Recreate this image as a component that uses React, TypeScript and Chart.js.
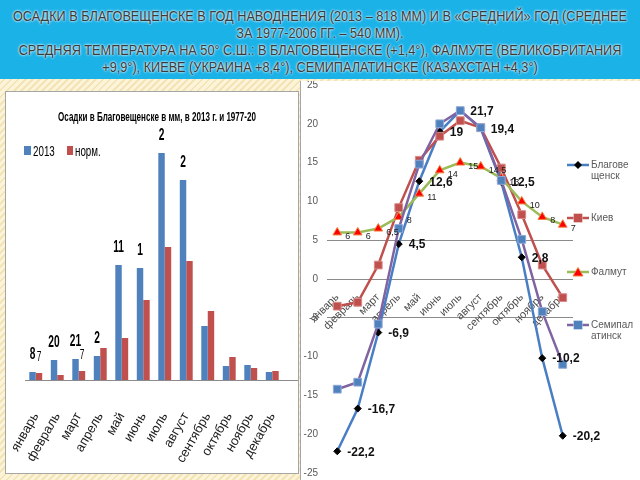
import React, { useEffect, useRef } from "react";
import { Chart, registerables } from "chart.js";

Chart.register(...registerables);
Chart.defaults.font.family = "'Liberation Sans', Arial, sans-serif";

// ---------- DATA ----------
const titleLines = [
  "ОСАДКИ В БЛАГОВЕЩЕНСКЕ В ГОД НАВОДНЕНИЯ (2013 – 818 ММ) И В «СРЕДНИЙ» ГОД (СРЕДНЕЕ",
  "ЗА 1977-2006 ГГ. – 540 ММ).",
  "СРЕДНЯЯ ТЕМПЕРАТУРА НА 50° С.Ш.: В БЛАГОВЕЩЕНСКЕ (+1,4°), ФАЛМУТЕ (ВЕЛИКОБРИТАНИЯ",
  "+9,9°), КИЕВЕ (УКРАИНА +8,4°), СЕМИПАЛАТИНСКЕ (КАЗАХСТАН +4,3°)",
];

const months = [
  "январь", "февраль", "март", "апрель", "май", "июнь",
  "июль", "август", "сентябрь", "октябрь", "ноябрь", "декабрь",
];

const precipTitle = "Осадки в Благовещенске в мм, в 2013 г. и 1977-20";
const precipSeriesNames = ["2013", "норм."];
const precip2013 = [8, 20, 21, 24, 115, 112, 227, 200, 54, 14, 15, 8];
const precipNorm = [7, 5, 9, 32, 42, 80, 133, 119, 69, 23, 12, 9];
const precipLabels2013 = ["8", "20", "21", "2", "11", "1", "2", "2", "", "", "", ""];
const precipLabelsNorm = ["7", "", "7", "", "", "", "", "", "", "", "", ""];

const tempSeriesNames = ["Благовещенск", "Киев", "Фалмут", "Семипалатинск"];
const tempBlag = [-22.2, -16.7, -6.9, 4.5, 12.6, 19, 21.7, 19.4, 12.5, 2.8, -10.2, -20.2];
const tempKiev = [-3.5, -3.0, 1.8, 9.2, 15.3, 18.4, 20.4, 19.5, 14.3, 8.3, 1.8, -2.4];
const tempFalmouth = [6, 6, 6.5, 8, 11, 14, 15, 14.5, 13, 10, 8, 7];
const tempSemip = [-14.2, -13.3, -5.8, 6.5, 14.8, 20, 21.7, 19.5, 12.7, 5.1, -4.2, -11.0];
const tempMin = -25;
const tempMax = 25;
const tempStep = 5;
const tempGridValues = [5, 0, -5];

// ---------- STYLE ----------
const BLUE = "#4F81BD";
const RED = "#C0504D";
const BLAG_LINE = "#4A7EC4";
const FAL_LINE = "#9BBB59";
const SEM_LINE = "#8064A2";

const fmt = (v: number) => String(v).replace(".", ",");

const barLabelPlugin = {
  id: "barLabels",
  afterDatasetsDraw(chart: any) {
    const ctx = chart.ctx;
    const a = chart.chartArea;
    ctx.save();
    ctx.strokeStyle = "#8c8c8c";
    ctx.lineWidth = 1;
    ctx.beginPath();
    const yb = Math.round(a.bottom) + 0.5;
    ctx.moveTo(a.left, yb);
    ctx.lineTo(chart.width, yb);
    ctx.stroke();
    const sets = [
      { labels: precipLabels2013, font: "bold 17px 'Liberation Sans', Arial", sx: 0.6, dy: 18 },
      { labels: precipLabelsNorm, font: "14px 'Liberation Sans', Arial", sx: 0.6, dy: 16 },
    ];
    sets.forEach((s, di) => {
      const meta = chart.getDatasetMeta(di);
      meta.data.forEach((bar: any, i: number) => {
        const t = s.labels[i];
        if (!t) return;
        ctx.save();
        ctx.translate(bar.x, bar.y - s.dy);
        ctx.scale(s.sx, 1);
        ctx.font = s.font;
        ctx.textAlign = "center";
        ctx.textBaseline = "middle";
        ctx.fillStyle = "#000";
        ctx.fillText(t, 0, 0);
        ctx.restore();
      });
    });
    ctx.restore();
  },
};

const lineLabelPlugin = {
  id: "lineLabels",
  afterDatasetsDraw(chart: any) {
    const ctx = chart.ctx;
    ctx.save();
    ctx.textAlign = "left";
    ctx.textBaseline = "middle";
    ctx.fillStyle = "#111";
    ctx.font = "bold 12px 'Liberation Sans', Arial";
    chart.getDatasetMeta(0).data.forEach((p: any, i: number) => {
      ctx.fillText(fmt(tempBlag[i]), p.x + 10, p.y + 1);
    });
    ctx.font = "9px 'Liberation Sans', Arial";
    ctx.fillStyle = "#222";
    chart.getDatasetMeta(2).data.forEach((p: any, i: number) => {
      ctx.fillText(fmt(tempFalmouth[i]), p.x + 8, p.y + 4);
    });
    ctx.restore();
  },
};

function PrecipChart() {
  const ref = useRef<HTMLCanvasElement>(null);
  useEffect(() => {
    const chart = new Chart(ref.current as HTMLCanvasElement, {
      type: "bar",
      data: {
        labels: months,
        datasets: [
          { label: precipSeriesNames[0], data: precip2013, backgroundColor: BLUE, categoryPercentage: 0.6, barPercentage: 1 },
          { label: precipSeriesNames[1], data: precipNorm, backgroundColor: RED, categoryPercentage: 0.6, barPercentage: 1 },
        ],
      },
      options: {
        animation: false,
        responsive: false,
        layout: { padding: { left: 19, right: 15, top: 38, bottom: 0 } },
        plugins: { legend: { display: false }, tooltip: { enabled: false }, title: { display: false } },
        scales: {
          x: {
            grid: { display: false },
            border: { display: false },
            ticks: {
              color: "#1a1a1a",
              font: { size: 13 },
              minRotation: 60,
              maxRotation: 60,
              autoSkip: false,
              padding: 22,
            },
            afterFit: (s: any) => { s.height = 93; s.paddingLeft = 0; s.paddingRight = 0; },
          },
          y: { display: false, min: 0, max: 250 },
        },
      },
      plugins: [barLabelPlugin],
    } as any);
    return () => chart.destroy();
  }, []);
  return <canvas ref={ref} width={292} height={381} style={{ display: "block", position: "absolute", left: 0, top: 0 }} />;
}

function TempChart() {
  const ref = useRef<HTMLCanvasElement>(null);
  useEffect(() => {
    const chart = new Chart(ref.current as HTMLCanvasElement, {
      type: "line",
      data: {
        labels: months,
        datasets: [
          {
            label: tempSeriesNames[0], data: tempBlag, borderColor: BLAG_LINE, borderWidth: 2.5,
            pointStyle: "rectRot", pointRadius: 3.5, pointBackgroundColor: "#000", pointBorderColor: "#000",
            pointBorderWidth: 1, order: 4, tension: 0,
          },
          {
            label: tempSeriesNames[1], data: tempKiev, borderColor: RED, borderWidth: 2.5,
            pointStyle: "rect", pointRadius: 5.5, pointBackgroundColor: RED, pointBorderColor: "#D98A88",
            pointBorderWidth: 1, order: 3, tension: 0,
          },
          {
            label: tempSeriesNames[2], data: tempFalmouth, borderColor: FAL_LINE, borderWidth: 2.5,
            pointStyle: "triangle", pointRadius: 5, pointBackgroundColor: "#FF0000", pointBorderColor: "#F08040",
            pointBorderWidth: 1, order: 2, tension: 0,
          },
          {
            label: tempSeriesNames[3], data: tempSemip, borderColor: SEM_LINE, borderWidth: 2.5,
            pointStyle: "rect", pointRadius: 5.5, pointBackgroundColor: BLUE, pointBorderColor: "#8FA8D8",
            pointBorderWidth: 1, order: 1, tension: 0,
          },
        ],
      },
      options: {
        animation: false,
        responsive: false,
        layout: { padding: { left: 0, right: 67, top: 9, bottom: 7 } },
        plugins: { legend: { display: false }, tooltip: { enabled: false } },
        scales: {
          x: {
            position: { y: 0 },
            offset: true,
            grid: { display: false },
            border: { display: false },
            ticks: { color: "#4a4a4a", font: { size: 11 }, minRotation: 45, maxRotation: 45, autoSkip: false, padding: 4 },
            afterFit: (s: any) => { s.paddingLeft = 0; s.paddingRight = 0; },
          },
          y: {
            min: tempMin,
            max: tempMax,
            border: { display: false },
            grid: {
              drawTicks: false,
              color: (c: any) => (c.tick && tempGridValues.includes(c.tick.value) ? "#8a8a8a" : "rgba(0,0,0,0)"),
            },
            ticks: { stepSize: tempStep, color: "#595959", font: { size: 10 }, padding: 9 },
            afterFit: (s: any) => { s.width = 26; s.paddingTop = 0; s.paddingBottom = 0; },
          },
        },
      },
      plugins: [lineLabelPlugin],
    } as any);
    return () => chart.destroy();
  }, []);
  return <canvas ref={ref} width={339} height={404} style={{ display: "block", position: "absolute", left: 0, top: -5 }} />;
}

function Marker({ kind, color }: { kind: string; color: string }) {
  if (kind === "diamond") return <polygon points="11,2 15,6 11,10 7,6" fill="#000" />;
  if (kind === "triangle") return <polygon points="11,1.5 16,10 6,10" fill="#FF0000" stroke="#F08040" strokeWidth={1} />;
  return <rect x={6.5} y={1.5} width={9} height={9} fill={color} stroke="#ffffff" strokeOpacity={0.35} strokeWidth={1} />;
}

const legendDefs = [
  { line: BLAG_LINE, kind: "diamond", mcolor: "#000" },
  { line: RED, kind: "square", mcolor: RED },
  { line: FAL_LINE, kind: "triangle", mcolor: "#FF0000" },
  { line: SEM_LINE, kind: "square", mcolor: BLUE },
];

export default function App() {
  return (
    <div
      style={{
        position: "fixed", left: 0, top: 0, width: 640, height: 480, overflow: "hidden",
        background: "repeating-linear-gradient(135deg, #FBF4D8 0px, #FBF4D8 3px, #F3E3B5 3px, #F3E3B5 5px)",
        fontFamily: "'Liberation Sans', Arial, sans-serif",
      }}
    >
      {/* banner */}
      <div style={{ position: "absolute", left: 0, top: 0, width: 640, height: 79, background: "#1BB2E8" }}>
        {titleLines.map((t, i) => (
          <div
            key={i}
            style={{
              position: "absolute", left: 320, top: 8 + i * 17, whiteSpace: "nowrap",
              fontSize: 14.5, lineHeight: "17px", color: "#3a3a3a",
              textShadow: "0 0 2px #ffffff, 0 0 3px #e8f8ff",
              transform: "translateX(-50%) scaleX(0.875)",
            }}
          >
            {t}
          </div>
        ))}
      </div>

      {/* left panel */}
      <div
        style={{
          position: "absolute", left: 5, top: 91, width: 294, height: 383, boxSizing: "border-box",
          background: "#fff", border: "1px solid #a6a6a6", overflow: "hidden",
        }}
      >
        <PrecipChart />
        <div
          style={{
            position: "absolute", left: 151, top: 17, whiteSpace: "nowrap", fontSize: 13, fontWeight: "bold",
            lineHeight: "16px", color: "#000", transform: "translateX(-50%) scaleX(0.62)",
          }}
        >
          {precipTitle}
        </div>
        <div style={{ position: "absolute", left: 18, top: 54, width: 7, height: 9, background: BLUE }} />
        <div style={{ position: "absolute", left: 27, top: 51, fontSize: 14, lineHeight: "16px", color: "#000", transform: "scaleX(0.7)", transformOrigin: "left center" }}>
          {precipSeriesNames[0]}
        </div>
        <div style={{ position: "absolute", left: 61, top: 54, width: 6, height: 9, background: RED }} />
        <div style={{ position: "absolute", left: 69, top: 51, fontSize: 14, lineHeight: "16px", color: "#000", transform: "scaleX(0.7)", transformOrigin: "left center" }}>
          {precipSeriesNames[1]}
        </div>
      </div>

      {/* right panel */}
      <div
        style={{
          position: "absolute", left: 300, top: 81, width: 340, height: 399, boxSizing: "border-box",
          background: "#fff", borderLeft: "1px solid #a6a6a6", overflow: "hidden",
        }}
      >
        <TempChart />
        {tempSeriesNames.map((name, i) => (
          <div key={i} style={{ position: "absolute", left: 266, top: 78 + Math.round(i * 53.4), height: 30 }}>
            <svg width={22} height={12} style={{ position: "absolute", left: 0, top: 0 }}>
              <line x1={0} y1={6} x2={22} y2={6} stroke={legendDefs[i].line} strokeWidth={2.5} />
              <Marker kind={legendDefs[i].kind} color={legendDefs[i].mcolor} />
            </svg>
            <div
              style={{
                position: "absolute", left: 24, top: 0, width: 43, fontSize: 10, lineHeight: "11px",
                color: "#595959", wordBreak: "break-all",
              }}
            >
              {name}
            </div>
          </div>
        ))}
      </div>
    </div>
  );
}
